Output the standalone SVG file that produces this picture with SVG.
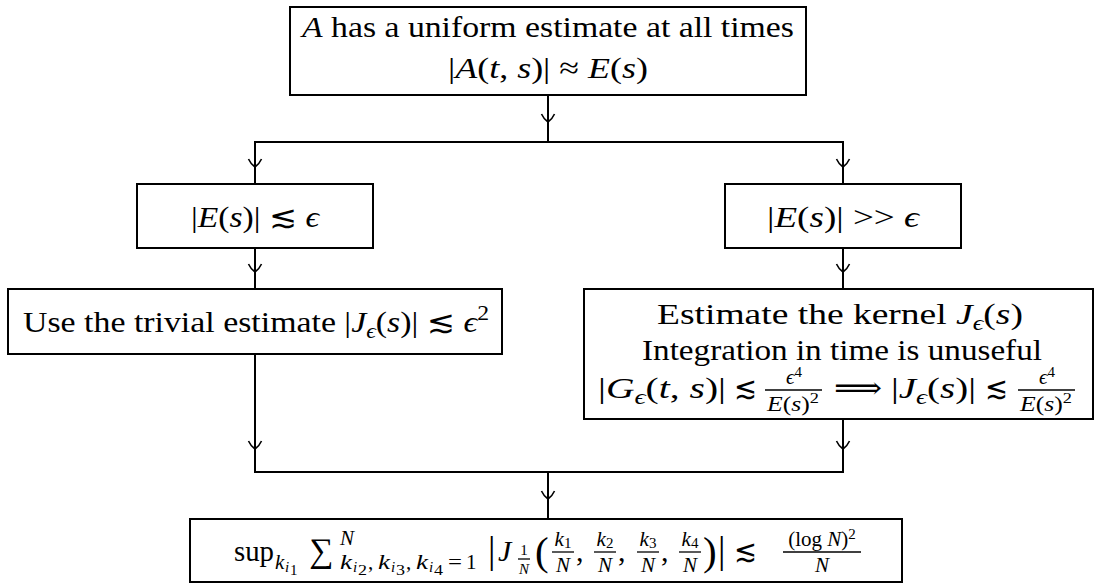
<svg xmlns="http://www.w3.org/2000/svg" width="1099" height="584" viewBox="0 0 1099 584">
<style>
text { font-family: "Liberation Serif", "DejaVu Serif", "DejaVu Sans", serif; font-size: 30px; fill: #000; }
.i { font-style: italic; }
.s { font-size: 21px; }
.ss { font-size: 15px; }
.m { text-anchor: middle; }
.box { fill: #fff; stroke: #000; stroke-width: 2; }
.conn path { fill: none; stroke: #000; stroke-width: 2; }
.bar { stroke: #000; stroke-width: 1.3; }
</style>
<defs>
<path id="ah" d="M-6.5,-8 C-4.5,-3.5 -1.5,-1 0,0 C1.5,-1 4.5,-3.5 6.5,-8" fill="none" stroke="#000" stroke-width="1.6"/>
</defs>

<g id="connectors" class="conn">
<path d="M548,95 V142"/>
<path d="M255,184 V142 H843 V184"/>
<path d="M255,248 V289"/>
<path d="M843,248 V289"/>
<path d="M255,354 V472 H843 V419"/>
<path d="M548,472 V519"/>
<use href="#ah" x="548" y="122"/>
<use href="#ah" x="255" y="167"/>
<use href="#ah" x="843" y="167"/>
<use href="#ah" x="255" y="272"/>
<use href="#ah" x="843" y="272"/>
<use href="#ah" x="255" y="449"/>
<use href="#ah" x="843" y="449"/>
<use href="#ah" x="548" y="499"/>
</g>

<g id="n-top">
<rect class="box" x="290" y="7" width="516" height="88"/>
<text x="548" y="37" class="m" textLength="492" lengthAdjust="spacingAndGlyphs"><tspan class="i">A</tspan> has a uniform estimate at all times</text>
<text x="548" y="78" class="m" textLength="200" lengthAdjust="spacingAndGlyphs">|<tspan class="i">A</tspan>(<tspan class="i">t</tspan>, <tspan class="i">s</tspan>)| ≈ <tspan class="i">E</tspan>(<tspan class="i">s</tspan>)</text>
</g>

<g id="n-small">
<rect class="box" x="137" y="184" width="236" height="64"/>
<text x="255" y="227" class="m" textLength="128" lengthAdjust="spacingAndGlyphs">|<tspan class="i">E</tspan>(<tspan class="i">s</tspan>)| ≲ <tspan class="i">ϵ</tspan></text>
</g>

<g id="n-large">
<rect class="box" x="725" y="184" width="236" height="64"/>
<text x="843" y="227" class="m" textLength="152" lengthAdjust="spacingAndGlyphs">|<tspan class="i">E</tspan>(<tspan class="i">s</tspan>)| &gt;&gt; <tspan class="i">ϵ</tspan></text>
</g>

<g id="n-trivial">
<rect class="box" x="8" y="289" width="494" height="65"/>
<text x="23" y="332" textLength="466" lengthAdjust="spacingAndGlyphs">Use the trivial estimate |<tspan class="i">J</tspan><tspan class="i s" dy="6">ϵ</tspan><tspan dy="-6">(</tspan><tspan class="i">s</tspan>)| ≲ <tspan class="i">ϵ</tspan><tspan class="s" dy="-12">2</tspan></text>
</g>

<g id="n-kernel">
<rect class="box" x="584" y="289" width="509" height="130"/>
<text x="840" y="324" class="m" textLength="366" lengthAdjust="spacingAndGlyphs">Estimate the kernel <tspan class="i">J</tspan><tspan class="i s" dy="6">ϵ</tspan><tspan dy="-6">(</tspan><tspan class="i">s</tspan>)</text>
<text x="842" y="360" class="m" textLength="400" lengthAdjust="spacingAndGlyphs">Integration in time is unuseful</text>
<text x="598" y="398" textLength="128" lengthAdjust="spacingAndGlyphs">|<tspan class="i">G</tspan><tspan class="i s" dy="6">ϵ</tspan><tspan dy="-6">(</tspan><tspan class="i">t</tspan>, <tspan class="i">s</tspan>)|</text>
<text x="734" y="398" textLength="23" lengthAdjust="spacingAndGlyphs">≲</text>
<text x="794" y="384" class="m"><tspan class="i s">ϵ</tspan><tspan class="ss" dy="-7">4</tspan></text>
<line class="bar" x1="765" y1="390" x2="822" y2="390"/>
<text x="793" y="411" class="m" textLength="52" lengthAdjust="spacingAndGlyphs"><tspan class="i s">E</tspan><tspan class="s">(</tspan><tspan class="i s">s</tspan><tspan class="s">)</tspan><tspan class="ss" dy="-8">2</tspan></text>
<text x="834" y="398" textLength="48" lengthAdjust="spacingAndGlyphs">⟹</text>
<text x="891" y="398" textLength="85" lengthAdjust="spacingAndGlyphs">|<tspan class="i">J</tspan><tspan class="i s" dy="6">ϵ</tspan><tspan dy="-6">(</tspan><tspan class="i">s</tspan>)|</text>
<text x="985" y="398" textLength="23" lengthAdjust="spacingAndGlyphs">≲</text>
<text x="1047" y="384" class="m"><tspan class="i s">ϵ</tspan><tspan class="ss" dy="-7">4</tspan></text>
<line class="bar" x1="1018" y1="390" x2="1075" y2="390"/>
<text x="1046" y="411" class="m" textLength="52" lengthAdjust="spacingAndGlyphs"><tspan class="i s">E</tspan><tspan class="s">(</tspan><tspan class="i s">s</tspan><tspan class="s">)</tspan><tspan class="ss" dy="-8">2</tspan></text>
</g>

<g id="n-result">
<rect class="box" x="190" y="519" width="712" height="63"/>
<text x="234" y="561" textLength="40" lengthAdjust="spacingAndGlyphs">sup</text>
<text x="275" y="569" class="i s">k</text>
<text x="285" y="572" class="i ss">i</text>
<text x="290" y="575" class="ss">1</text>
<text x="309" y="562" style="font-size:34px">∑</text>
<text x="340" y="545" class="i s">N</text>
<text x="340" y="569" class="i s" textLength="12" lengthAdjust="spacingAndGlyphs">k</text>
<text x="353" y="572" class="i ss">i</text>
<text x="358" y="575" class="ss" textLength="9" lengthAdjust="spacingAndGlyphs">2</text>
<text x="368" y="569" class="s">,</text>
<text x="378" y="569" class="i s" textLength="12" lengthAdjust="spacingAndGlyphs">k</text>
<text x="391" y="572" class="i ss">i</text>
<text x="396" y="575" class="ss" textLength="9" lengthAdjust="spacingAndGlyphs">3</text>
<text x="406" y="569" class="s">,</text>
<text x="416" y="569" class="i s" textLength="12" lengthAdjust="spacingAndGlyphs">k</text>
<text x="429" y="572" class="i ss">i</text>
<text x="434" y="575" class="ss" textLength="9" lengthAdjust="spacingAndGlyphs">4</text>
<text x="448" y="569" class="s" textLength="14" lengthAdjust="spacingAndGlyphs">=</text>
<text x="466" y="569" class="s">1</text>
<text x="488" y="563" style="font-size:37px">|</text>
<text x="498" y="561" class="i">J</text>
<text x="524" y="555" class="m ss">1</text>
<line class="bar" x1="518" y1="559" x2="530" y2="559"/>
<text x="524" y="574" class="m i ss">N</text>
<text x="535" y="565" style="font-size:41px">(</text>
<text x="563" y="546" class="m"><tspan class="i s">k</tspan><tspan class="ss" dy="2">1</tspan></text>
<line class="bar" x1="552" y1="552" x2="574" y2="552"/>
<text x="563" y="572" class="m i s">N</text>
<text x="576" y="561">,</text>
<text x="605" y="546" class="m"><tspan class="i s">k</tspan><tspan class="ss" dy="2">2</tspan></text>
<line class="bar" x1="594" y1="552" x2="616" y2="552"/>
<text x="605" y="572" class="m i s">N</text>
<text x="618" y="561">,</text>
<text x="648" y="546" class="m"><tspan class="i s">k</tspan><tspan class="ss" dy="2">3</tspan></text>
<line class="bar" x1="637" y1="552" x2="659" y2="552"/>
<text x="648" y="572" class="m i s">N</text>
<text x="661" y="561">,</text>
<text x="690" y="546" class="m"><tspan class="i s">k</tspan><tspan class="ss" dy="2">4</tspan></text>
<line class="bar" x1="679" y1="552" x2="701" y2="552"/>
<text x="690" y="572" class="m i s">N</text>
<text x="703" y="565" style="font-size:41px">)</text>
<text x="718" y="563" style="font-size:37px">|</text>
<text x="734" y="561" textLength="23" lengthAdjust="spacingAndGlyphs">≲</text>
<text x="822" y="546" class="m"><tspan class="s">(log </tspan><tspan class="i s">N</tspan><tspan class="s">)</tspan><tspan class="ss" dy="-7">2</tspan></text>
<line class="bar" x1="783" y1="552" x2="861" y2="552"/>
<text x="822" y="572" class="m i s">N</text>
</g>
</svg>
